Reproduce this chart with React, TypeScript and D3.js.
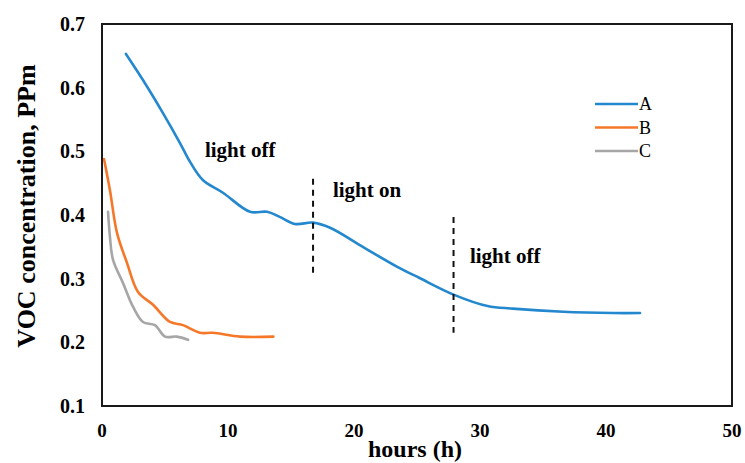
import React, { useRef, useEffect } from 'react';
import * as d3 from 'd3';

// hours for each series
const hoursA = [1.9, 3.25, 4.84, 6.19, 7.0, 8.0, 9.6, 11.75, 13.1, 14.1, 15.3, 16.75, 18.1, 20.7, 23.4, 25.2, 27.9, 30.6, 32.6, 36.6, 40.6, 42.7];
const valuesA = [0.653, 0.612, 0.56, 0.513, 0.483, 0.455, 0.435, 0.405, 0.405, 0.397, 0.386, 0.388, 0.38, 0.35, 0.319, 0.301, 0.275, 0.257, 0.253, 0.248, 0.246, 0.246];

const hoursB = [0.16, 0.63, 1.19, 1.98, 2.86, 4.05, 5.4, 6.43, 7.78, 8.8, 10.95, 13.6];
const valuesB = [0.488, 0.439, 0.372, 0.325, 0.279, 0.259, 0.232, 0.227, 0.215, 0.215, 0.209, 0.209];

const hoursC = [0.48, 0.63, 0.87, 1.67, 2.46, 3.25, 4.2, 5.0, 5.95, 6.83];
const valuesC = [0.405, 0.366, 0.33, 0.293, 0.256, 0.232, 0.227, 0.209, 0.209, 0.204];

const seriesNames = ['A', 'B', 'C'];
const seriesColors = ['#2488cf', '#f5782a', '#a6a6a6'];

const xTicks = [0, 10, 20, 30, 40, 50];
const yTicks = [0.1, 0.2, 0.3, 0.4, 0.5, 0.6, 0.7];

// dashed markers: hour, from value, to value
const markerHours = [16.75, 27.9];
const markerTop = [0.457, 0.397];
const markerBottom = [0.306, 0.215];

// annotation text: label, hour, value (baseline)
const noteLabels = ['light off', 'light on', 'light off'];
const noteHours = [8.17, 18.33, 29.2];
const noteValues = [0.491, 0.428, 0.325];

const W = 745;
const H = 463;
const margin = { top: 24, right: 13, bottom: 57, left: 102 };
const serif = '"Liberation Serif", "Times New Roman", serif';

const App = () => {
    const svgRef = useRef<SVGSVGElement>(null);

    useEffect(() => {
        const svg = d3.select(svgRef.current);
        svg.selectAll('*').remove();

        const x = d3.scaleLinear().domain([0, 50]).range([margin.left, W - margin.right]);
        const y = d3.scaleLinear().domain([0.1, 0.7]).range([H - margin.bottom, margin.top]);

        svg.append('rect').attr('width', W).attr('height', H).attr('fill', '#fff');

        // tick labels
        svg.append('g')
            .selectAll('text')
            .data(yTicks)
            .enter().append('text')
            .attr('x', 85)
            .attr('y', d => y(d) + 7)
            .attr('text-anchor', 'end')
            .style('font-family', serif)
            .style('font-weight', 'bold')
            .style('font-size', '20px')
            .text(d => d.toFixed(1));

        svg.append('g')
            .selectAll('text')
            .data(xTicks)
            .enter().append('text')
            .attr('x', d => x(d))
            .attr('y', 437)
            .attr('text-anchor', 'middle')
            .style('font-family', serif)
            .style('font-weight', 'bold')
            .style('font-size', '19px')
            .text(d => d);

        // axis titles
        svg.append('text')
            .attr('x', 415)
            .attr('y', 457)
            .attr('text-anchor', 'middle')
            .style('font-family', serif)
            .style('font-weight', 'bold')
            .style('font-size', '24px')
            .text('hours (h)');

        svg.append('text')
            .attr('transform', `translate(35,206) rotate(-90)`)
            .attr('text-anchor', 'middle')
            .style('font-family', serif)
            .style('font-weight', 'bold')
            .style('font-size', '26px')
            .text('VOC concentration,  PPm');

        const line = d3.line<[number, number]>()
            .x(d => x(d[0]))
            .y(d => y(d[1]))
            .curve(d3.curveCatmullRom);

        const series = [
            d3.zip(hoursA, valuesA),
            d3.zip(hoursB, valuesB),
            d3.zip(hoursC, valuesC),
        ] as [number, number][][];

        series.forEach((pts, i) => {
            svg.append('path')
                .attr('d', line(pts))
                .attr('fill', 'none')
                .attr('stroke', seriesColors[i])
                .attr('stroke-width', 2.6)
                .attr('stroke-linejoin', 'round')
                .attr('stroke-linecap', 'round');
        });

        // dashed light markers
        markerHours.forEach((h, i) => {
            svg.append('line')
                .attr('x1', x(h)).attr('x2', x(h))
                .attr('y1', y(markerTop[i])).attr('y2', y(markerBottom[i]))
                .attr('stroke', '#111')
                .attr('stroke-width', 2)
                .attr('stroke-dasharray', '6,5');
        });

        noteLabels.forEach((t, i) => {
            svg.append('text')
                .attr('x', x(noteHours[i]))
                .attr('y', y(noteValues[i]))
                .style('font-family', serif)
                .style('font-weight', 'bold')
                .style('font-size', '21px')
                .text(t);
        });

        // legend
        const legend = svg.append('g');
        seriesNames.forEach((name, i) => {
            const ly = 104 + i * 23.5;
            legend.append('line')
                .attr('x1', 595).attr('x2', 638)
                .attr('y1', ly).attr('y2', ly)
                .attr('stroke', seriesColors[i])
                .attr('stroke-width', 2.6);
            legend.append('text')
                .attr('x', 639)
                .attr('y', ly + 6)
                .style('font-family', serif)
                .style('font-size', '18px')
                .text(name);
        });

        // plot frame
        svg.append('rect')
            .attr('x', margin.left)
            .attr('y', margin.top)
            .attr('width', W - margin.left - margin.right)
            .attr('height', H - margin.top - margin.bottom)
            .attr('fill', 'none')
            .attr('stroke', '#1a1a1a')
            .attr('stroke-width', 2);
    }, []);

    return (
        <svg
            ref={svgRef}
            width={W}
            height={H}
            style={{ position: 'absolute', left: 0, top: 0 }}
        />
    );
};

export default App;
